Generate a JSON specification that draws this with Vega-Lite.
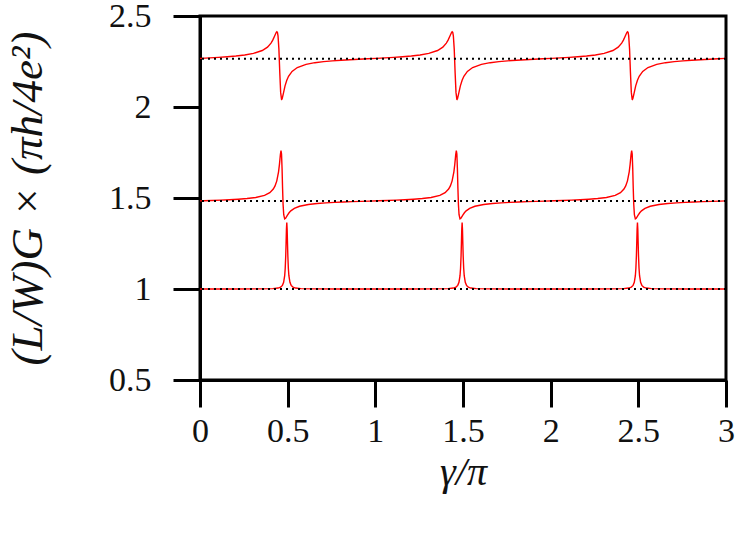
{
  "$schema": "https://vega.github.io/schema/vega-lite/v6.json",
  "width": 526,
  "height": 364,
  "autosize": {"type": "none"},
  "padding": {"left": 200, "top": 16, "right": 21, "bottom": 162},
  "background": "white",
  "config": {
    "view": {"stroke": "black", "strokeWidth": 3},
    "axis": {
      "grid": false,
      "domainColor": "black",
      "domainWidth": 3,
      "tickColor": "black",
      "tickWidth": 3,
      "tickSize": 27,
      "labelFont": "Liberation Serif",
      "labelFontSize": 34,
      "labelColor": "#111",
      "titleFont": "Liberation Serif",
      "titleFontStyle": "italic",
      "titleFontWeight": "normal",
      "titleColor": "#111",
      "labelOverlap": false,
      "labelFlush": false
    }
  },
  "datasets": {
    "top": [
      {"x":0,"y":2.2672},
      {"x":0.005,"y":2.2674},{"x":0.055,"y":2.2699},{"x":0.105,"y":2.2728},{"x":0.155,"y":2.2761},{"x":0.205,"y":2.2802},{"x":0.255,"y":2.2859},{"x":0.305,"y":2.2945},{"x":0.355,"y":2.3104},{"x":0.385,"y":2.329},{"x":0.405,"y":2.351},{"x":0.415,"y":2.3673},{"x":0.425,"y":2.3885},{"x":0.435,"y":2.4105},{"x":0.438,"y":2.4135},{"x":0.4415,"y":2.4098},{"x":0.445,"y":2.391},{"x":0.45,"y":2.3179},{"x":0.455,"y":2.19},{"x":0.46,"y":2.0802},{"x":0.465,"y":2.0421},{"x":0.466,"y":2.0414},{"x":0.4685,"y":2.0452},{"x":0.475,"y":2.0726},{"x":0.485,"y":2.1163},{"x":0.495,"y":2.1474},{"x":0.505,"y":2.1689},{"x":0.525,"y":2.1956},{"x":0.555,"y":2.2169},{"x":0.605,"y":2.2343},{"x":0.655,"y":2.2435},{"x":0.705,"y":2.2494},{"x":0.755,"y":2.2537},{"x":0.805,"y":2.257},{"x":0.855,"y":2.2599},{"x":0.905,"y":2.2625},{"x":0.955,"y":2.265},
      {"x":1.005,"y":2.2674},{"x":1.055,"y":2.2699},{"x":1.105,"y":2.2728},{"x":1.155,"y":2.2761},{"x":1.205,"y":2.2802},{"x":1.255,"y":2.2859},{"x":1.305,"y":2.2945},{"x":1.355,"y":2.3104},{"x":1.385,"y":2.329},{"x":1.405,"y":2.351},{"x":1.415,"y":2.3673},{"x":1.425,"y":2.3885},{"x":1.435,"y":2.4105},{"x":1.438,"y":2.4135},{"x":1.4415,"y":2.4098},{"x":1.445,"y":2.391},{"x":1.45,"y":2.3179},{"x":1.455,"y":2.19},{"x":1.46,"y":2.0802},{"x":1.465,"y":2.0421},{"x":1.466,"y":2.0414},{"x":1.4685,"y":2.0452},{"x":1.475,"y":2.0726},{"x":1.485,"y":2.1163},{"x":1.495,"y":2.1474},{"x":1.505,"y":2.1689},{"x":1.525,"y":2.1956},{"x":1.555,"y":2.2169},{"x":1.605,"y":2.2343},{"x":1.655,"y":2.2435},{"x":1.705,"y":2.2494},{"x":1.755,"y":2.2537},{"x":1.805,"y":2.257},{"x":1.855,"y":2.2599},{"x":1.905,"y":2.2625},{"x":1.955,"y":2.265},
      {"x":2.005,"y":2.2674},{"x":2.055,"y":2.2699},{"x":2.105,"y":2.2728},{"x":2.155,"y":2.2761},{"x":2.205,"y":2.2802},{"x":2.255,"y":2.2859},{"x":2.305,"y":2.2945},{"x":2.355,"y":2.3104},{"x":2.385,"y":2.329},{"x":2.405,"y":2.351},{"x":2.415,"y":2.3673},{"x":2.425,"y":2.3885},{"x":2.435,"y":2.4105},{"x":2.438,"y":2.4135},{"x":2.4415,"y":2.4098},{"x":2.445,"y":2.391},{"x":2.45,"y":2.3179},{"x":2.455,"y":2.19},{"x":2.46,"y":2.0802},{"x":2.465,"y":2.0421},{"x":2.466,"y":2.0414},{"x":2.4685,"y":2.0452},{"x":2.475,"y":2.0726},{"x":2.485,"y":2.1163},{"x":2.495,"y":2.1474},{"x":2.505,"y":2.1689},{"x":2.525,"y":2.1956},{"x":2.555,"y":2.2169},{"x":2.605,"y":2.2343},{"x":2.655,"y":2.2435},{"x":2.705,"y":2.2494},{"x":2.755,"y":2.2537},{"x":2.805,"y":2.257},{"x":2.855,"y":2.2599},{"x":2.905,"y":2.2625},{"x":2.955,"y":2.265},
      {"x":3,"y":2.2672}
    ],
    "mid": [
      {"x":0,"y":1.484},
      {"x":0.018,"y":1.4846},{"x":0.068,"y":1.4863},{"x":0.118,"y":1.4881},{"x":0.168,"y":1.4903},{"x":0.218,"y":1.4931},{"x":0.268,"y":1.4969},{"x":0.318,"y":1.503},{"x":0.368,"y":1.5146},{"x":0.398,"y":1.5295},{"x":0.418,"y":1.5493},{"x":0.428,"y":1.5664},{"x":0.438,"y":1.5941},{"x":0.448,"y":1.6438},{"x":0.453,"y":1.6835},{"x":0.4585,"y":1.7379},{"x":0.462,"y":1.7606},{"x":0.465,"y":1.7414},{"x":0.468,"y":1.663},{"x":0.471,"y":1.552},{"x":0.474,"y":1.4627},{"x":0.4775,"y":1.4081},{"x":0.483,"y":1.3855},{"x":0.488,"y":1.3884},{"x":0.498,"y":1.4047},{"x":0.508,"y":1.4188},{"x":0.518,"y":1.4293},{"x":0.538,"y":1.443},{"x":0.568,"y":1.4546},{"x":0.618,"y":1.4645},{"x":0.668,"y":1.4699},{"x":0.718,"y":1.4734},{"x":0.768,"y":1.476},{"x":0.818,"y":1.4781},{"x":0.868,"y":1.4799},{"x":0.918,"y":1.4815},{"x":0.968,"y":1.4831},
      {"x":1.018,"y":1.4846},{"x":1.068,"y":1.4863},{"x":1.118,"y":1.4881},{"x":1.168,"y":1.4903},{"x":1.218,"y":1.4931},{"x":1.268,"y":1.4969},{"x":1.318,"y":1.503},{"x":1.368,"y":1.5146},{"x":1.398,"y":1.5295},{"x":1.418,"y":1.5493},{"x":1.428,"y":1.5664},{"x":1.438,"y":1.5941},{"x":1.448,"y":1.6438},{"x":1.453,"y":1.6835},{"x":1.4585,"y":1.7379},{"x":1.462,"y":1.7606},{"x":1.465,"y":1.7414},{"x":1.468,"y":1.663},{"x":1.471,"y":1.552},{"x":1.474,"y":1.4627},{"x":1.4775,"y":1.4081},{"x":1.483,"y":1.3855},{"x":1.488,"y":1.3884},{"x":1.498,"y":1.4047},{"x":1.508,"y":1.4188},{"x":1.518,"y":1.4293},{"x":1.538,"y":1.443},{"x":1.568,"y":1.4546},{"x":1.618,"y":1.4645},{"x":1.668,"y":1.4699},{"x":1.718,"y":1.4734},{"x":1.768,"y":1.476},{"x":1.818,"y":1.4781},{"x":1.868,"y":1.4799},{"x":1.918,"y":1.4815},{"x":1.968,"y":1.4831},
      {"x":2.018,"y":1.4846},{"x":2.068,"y":1.4863},{"x":2.118,"y":1.4881},{"x":2.168,"y":1.4903},{"x":2.218,"y":1.4931},{"x":2.268,"y":1.4969},{"x":2.318,"y":1.503},{"x":2.368,"y":1.5146},{"x":2.398,"y":1.5295},{"x":2.418,"y":1.5493},{"x":2.428,"y":1.5664},{"x":2.438,"y":1.5941},{"x":2.448,"y":1.6438},{"x":2.453,"y":1.6835},{"x":2.4585,"y":1.7379},{"x":2.462,"y":1.7606},{"x":2.465,"y":1.7414},{"x":2.468,"y":1.663},{"x":2.471,"y":1.552},{"x":2.474,"y":1.4627},{"x":2.4775,"y":1.4081},{"x":2.483,"y":1.3855},{"x":2.488,"y":1.3884},{"x":2.498,"y":1.4047},{"x":2.508,"y":1.4188},{"x":2.518,"y":1.4293},{"x":2.538,"y":1.443},{"x":2.568,"y":1.4546},{"x":2.618,"y":1.4645},{"x":2.668,"y":1.4699},{"x":2.718,"y":1.4734},{"x":2.768,"y":1.476},{"x":2.818,"y":1.4781},{"x":2.868,"y":1.4799},{"x":2.918,"y":1.4815},{"x":2.968,"y":1.4831},
      {"x":3,"y":1.484}
    ],
    "bot": [
      {"x":0,"y":1.0},
      {"x":0.195,"y":1.0001},{"x":0.345,"y":1.0006},{"x":0.415,"y":1.002},{"x":0.445,"y":1.0052},{"x":0.46,"y":1.0104},{"x":0.47,"y":1.0199},{"x":0.477,"y":1.0365},{"x":0.483,"y":1.073},{"x":0.486,"y":1.1123},{"x":0.489,"y":1.1825},{"x":0.491,"y":1.2527},{"x":0.493,"y":1.3285},{"x":0.495,"y":1.365},{"x":0.497,"y":1.3285},{"x":0.499,"y":1.2527},{"x":0.501,"y":1.1825},{"x":0.504,"y":1.1123},{"x":0.507,"y":1.073},{"x":0.513,"y":1.0365},{"x":0.52,"y":1.0199},{"x":0.53,"y":1.0104},{"x":0.545,"y":1.0052},{"x":0.575,"y":1.002},{"x":0.645,"y":1.0006},{"x":0.795,"y":1.0001},
      {"x":1.195,"y":1.0001},{"x":1.345,"y":1.0006},{"x":1.415,"y":1.002},{"x":1.445,"y":1.0052},{"x":1.46,"y":1.0104},{"x":1.47,"y":1.0199},{"x":1.477,"y":1.0365},{"x":1.483,"y":1.073},{"x":1.486,"y":1.1123},{"x":1.489,"y":1.1825},{"x":1.491,"y":1.2527},{"x":1.493,"y":1.3285},{"x":1.495,"y":1.365},{"x":1.497,"y":1.3285},{"x":1.499,"y":1.2527},{"x":1.501,"y":1.1825},{"x":1.504,"y":1.1123},{"x":1.507,"y":1.073},{"x":1.513,"y":1.0365},{"x":1.52,"y":1.0199},{"x":1.53,"y":1.0104},{"x":1.545,"y":1.0052},{"x":1.575,"y":1.002},{"x":1.645,"y":1.0006},{"x":1.795,"y":1.0001},
      {"x":2.195,"y":1.0001},{"x":2.345,"y":1.0006},{"x":2.415,"y":1.002},{"x":2.445,"y":1.0052},{"x":2.46,"y":1.0104},{"x":2.47,"y":1.0199},{"x":2.477,"y":1.0365},{"x":2.483,"y":1.073},{"x":2.486,"y":1.1123},{"x":2.489,"y":1.1825},{"x":2.491,"y":1.2527},{"x":2.493,"y":1.3285},{"x":2.495,"y":1.365},{"x":2.497,"y":1.3285},{"x":2.499,"y":1.2527},{"x":2.501,"y":1.1825},{"x":2.504,"y":1.1123},{"x":2.507,"y":1.073},{"x":2.513,"y":1.0365},{"x":2.52,"y":1.0199},{"x":2.53,"y":1.0104},{"x":2.545,"y":1.0052},{"x":2.575,"y":1.002},{"x":2.645,"y":1.0006},{"x":2.795,"y":1.0001},
      {"x":3,"y":1.0}
    ],
    "base": [{"y":2.265},{"y":1.483},{"y":1.0}]
  },
  "encoding": {
    "x": {
      "field": "x", "type": "quantitative",
      "scale": {"domain": [0, 3], "nice": false, "zero": false},
      "axis": {"values": [0, 0.5, 1, 1.5, 2, 2.5, 3], "labelExpr": "datum.value", "labelPadding": 7, "title": "γ/π", "titleFontSize": 40, "titlePadding": 4}
    },
    "y": {
      "field": "y", "type": "quantitative",
      "scale": {"domain": [0.5, 2.5], "nice": false, "zero": false},
      "axis": {"values": [0.5, 1, 1.5, 2, 2.5], "labelExpr": "datum.value", "labelPadding": 22, "title": "(L/W)G × (πh/4e²)", "titleFontSize": 45, "titlePadding": 58}
    }
  },
  "layer": [
    {"data": {"name": "top"}, "mark": {"type": "line", "color": "#ff0000", "strokeWidth": 1.4}},
    {"data": {"name": "mid"}, "mark": {"type": "line", "color": "#ff0000", "strokeWidth": 1.4}},
    {"data": {"name": "bot"}, "mark": {"type": "line", "color": "#ff0000", "strokeWidth": 1.4}},
    {"data": {"name": "base"}, "mark": {"type": "rule", "color": "black", "strokeWidth": 2, "strokeDash": [2, 4]}, "encoding": {"x": null}}
  ]
}
